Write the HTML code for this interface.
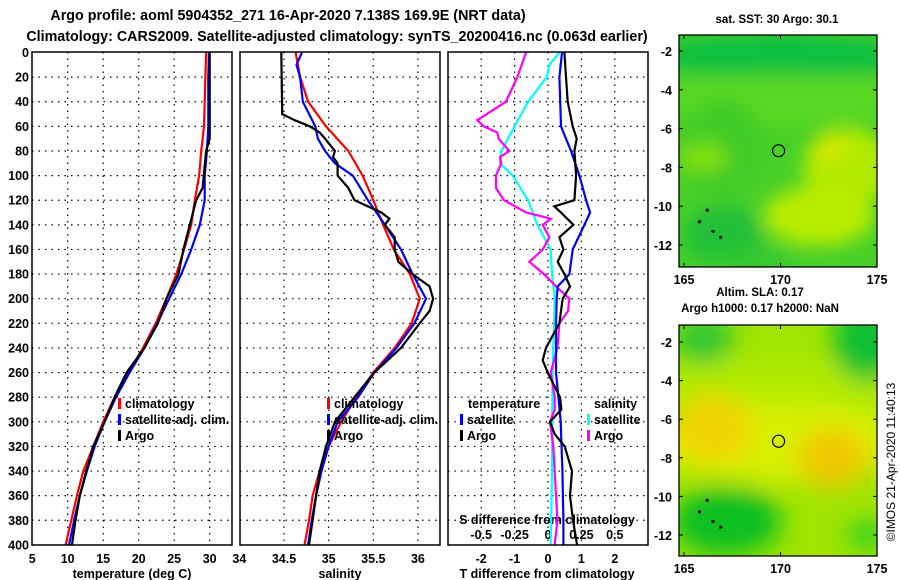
<!DOCTYPE html>
<html><head><meta charset="utf-8">
<style>
html,body{margin:0;padding:0;background:#fff;}
svg{display:block;font-family:"Liberation Sans",Arial,sans-serif;font-weight:bold;}
</style></head>
<body>
<svg id="fig" width="900" height="580" viewBox="0 0 900 580" xmlns="http://www.w3.org/2000/svg">
<defs>
<filter id="blur1" x="-20%" y="-20%" width="140%" height="140%"><feGaussianBlur stdDeviation="9"/></filter>
<filter id="blur2" x="-20%" y="-20%" width="140%" height="140%"><feGaussianBlur stdDeviation="12"/></filter>
<clipPath id="clipM1"><rect x="679" y="35" width="198" height="232"/></clipPath>
<clipPath id="clipM2"><rect x="679" y="325" width="198" height="231"/></clipPath>
<clipPath id="clipP1"><rect x="32" y="52" width="200" height="493"/></clipPath>
<clipPath id="clipP2"><rect x="240" y="52" width="200" height="493"/></clipPath>
<clipPath id="clipP3"><rect x="448" y="52" width="200" height="493"/></clipPath>
</defs>
<text x="288" y="20" font-size="14.3" text-anchor="middle">Argo profile: aoml 5904352_271 16-Apr-2020 7.138S 169.9E (NRT data)</text>
<text x="337" y="41" font-size="14.3" text-anchor="middle">Climatology: CARS2009. Satellite-adjusted climatology: synTS_20200416.nc (0.063d earlier)</text>
<g id="layer"></g>
</svg>
<script>
// ---- data ----
const depthT = [0,20,60,80,100,120,140,160,180,200,220,240,260,280,300,320,340,360,380,400];
const tempClim = [29.5,29.4,29.2,28.8,28.5,27.9,27.4,26.4,25.3,23.9,22.4,20.6,18.6,16.6,15.0,13.6,12.2,11.3,10.5,9.7];
const tempSat = [29.9,29.8,29.8,29.6,29.3,29.3,28.6,27.4,26.0,24.3,22.6,20.8,18.7,16.8,15.2,13.8,12.7,11.7,10.9,10.2];
const depthTA = [0,70,80,110,120,140,160,180,200,220,240,260,280,300,320,340,360,380,400];
const tempArgo = [30.0,30.0,29.5,29.0,28.1,27.2,26.3,25.6,23.9,22.7,20.8,18.3,16.6,15.2,13.6,12.6,11.7,11.1,10.6];

const depthS = [0,20,40,60,80,100,120,140,160,180,200,220,240,260,280,300,320,340,360,380,400];
const salClim = [34.63,34.68,34.77,34.97,35.22,35.38,35.50,35.61,35.73,35.91,36.02,35.93,35.74,35.50,35.31,35.14,35.0,34.9,34.82,34.78,34.73];
const depthSS = [0,10,20,40,60,70,80,90,100,120,140,160,180,200,220,240,260,280,300,320,340,360,380,400];
const salSat = [34.70,34.64,34.68,34.71,34.85,34.88,34.96,35.07,35.27,35.44,35.63,35.81,35.94,36.09,35.96,35.76,35.51,35.33,35.10,35.0,34.92,34.86,34.81,34.77];
const depthSA = [0,50,55,60,65,70,80,85,90,100,110,120,125,130,135,140,150,160,170,180,190,200,210,220,240,260,280,300,320,340,360,380,400];
const salArgo = [34.47,34.48,34.62,34.79,34.90,34.96,35.07,35.05,35.10,35.10,35.22,35.29,35.44,35.59,35.68,35.63,35.74,35.74,35.78,35.94,36.13,36.17,36.13,36.02,35.81,35.51,35.29,35.07,34.97,34.90,34.86,34.82,34.78];

const depthDTS = [0,20,60,80,100,120,130,140,160,180,190,200,220,240,260,280,300,340,380,400];
const dTSat = [0.42,0.34,0.39,0.69,0.94,1.14,1.26,1.09,0.74,0.64,0.29,0.26,0.24,0.24,0.24,0.31,0.38,0.43,0.46,0.46];
const depthDTA = [0,20,40,60,70,80,100,120,125,130,140,150,160,170,180,190,200,210,220,240,250,260,280,290,300,310,320,340,360,380,400];
const dTArgo = [0.49,0.54,0.59,0.74,0.86,0.79,0.84,0.79,0.19,0.39,0.76,0.34,0.46,0.29,0.49,0.66,0.44,0.39,0.34,-0.06,-0.16,-0.01,0.36,0.4,0.06,0.2,0.5,0.72,0.66,0.75,0.87];
const depthDSS = [0,10,20,40,60,80,90,100,120,140,160,180,200,240,260,300,340,400];
const dSSat = [0.085,0.01,-0.01,-0.15,-0.25,-0.35,-0.36,-0.265,-0.15,-0.08,0.02,0.03,0.05,0.04,0.035,0.03,0.03,0.02];
const depthDSA = [0,20,40,55,60,65,70,80,85,90,100,110,120,130,135,140,150,160,170,180,190,200,210,220,240,260,280,290,300,320,340,360,380,400];
const dSArgo = [-0.165,-0.23,-0.315,-0.53,-0.48,-0.38,-0.37,-0.29,-0.36,-0.35,-0.39,-0.39,-0.33,-0.165,0.02,-0.04,0.01,-0.04,-0.14,-0.03,0.06,0.16,0.15,0.085,0.07,0.02,0.05,0.05,0.015,0.04,0.05,0.06,0.07,0.05];

const depthTicks = [0,20,40,60,80,100,120,140,160,180,200,220,240,260,280,300,320,340,360,380,400];
const tempTicks = [5,10,15,20,25,30];
const salTicks = [34,34.5,35,35.5,36];
const dTTicks = [-2,-1,0,1,2];
const dSTicks = [-0.5,-0.25,0,0.25,0.5];
const latTicks = [-2,-4,-6,-8,-10,-12];
const lonTicks = [165,170,175];
const argoLon = 169.9, argoLat = -7.14;

// ---- scales ----
const NS = "http://www.w3.org/2000/svg";
const layer = document.getElementById('layer');
const yD = d => 52.5 + d * 1.231;
const xT = t => 67.7 + (t - 10) * 7.1;
const xS = s => 284 + (s - 34.5) * 89.3;
const xDT = t => 548 + t * 33.4;
const xDS = s => 548 + s * 133.6;
const mx = lon => 684 + (lon - 165) * 19.3;
const my1 = lat => 51 + (-2 - lat) * 19.4;
const my2 = lat => 342 + (-2 - lat) * 19.3;

function el(tag, attrs, parent) {
  const e = document.createElementNS(NS, tag);
  for (const k in attrs) e.setAttribute(k, attrs[k]);
  (parent || layer).appendChild(e);
  return e;
}
function txt(x, y, s, size, anchor, parent) {
  const t = el('text', {x: x, y: y, 'font-size': size, 'text-anchor': anchor}, parent);
  t.textContent = s;
  return t;
}
function line(xs, ys, xf, color, clip, name) {
  const pts = xs.map((v, i) => xf(v).toFixed(1) + ',' + yD(ys[i]).toFixed(1)).join(' ');
  const p = el('polyline', {points: pts, fill: 'none', stroke: color, 'stroke-width': 2.2, 'clip-path': 'url(#' + clip + ')'});
  
  
}

// ---- profile panels ----
const panels = [
  {x0: 32, clip: 'clipP1', name: 'temperature-panel'},
  {x0: 240, clip: 'clipP2', name: 'salinity-panel'},
  {x0: 448, clip: 'clipP3', name: 'difference-panel'}
];
panels.forEach(p => {
  const g = el('g', {});
  
  
  depthTicks.forEach(d => {
    if (d > 0 && d < 400) el('line', {x1: p.x0, x2: p.x0 + 200, y1: yD(d), y2: yD(d), stroke: '#000', 'stroke-width': 1.2, 'stroke-dasharray': '1.5,5'}, g);
  });
  p.g = g;
});
tempTicks.forEach(t => { if (xT(t) > 34 && xT(t) < 230) el('line', {x1: xT(t), x2: xT(t), y1: 52, y2: 545, stroke: '#000', 'stroke-width': 1.2, 'stroke-dasharray': '1.5,5'}); });
salTicks.forEach(s => { if (xS(s) > 242 && xS(s) < 438) el('line', {x1: xS(s), x2: xS(s), y1: 52, y2: 545, stroke: '#000', 'stroke-width': 1.2, 'stroke-dasharray': '1.5,5'}); });
dTTicks.forEach(t => { el('line', {x1: xDT(t), x2: xDT(t), y1: 52, y2: 545, stroke: '#000', 'stroke-width': 1.2, 'stroke-dasharray': '1.5,5'}); });

depthTicks.forEach(d => {
  const t = txt(29, yD(d) + 4.5, String(d), 12.5, 'end');
  
  
});
tempTicks.forEach(t => { const e = txt(xT(t), 563, String(t), 12.5, 'middle');   });
salTicks.forEach(s => { const e = txt(xS(s), 563, String(s), 12.5, 'middle');   });
dTTicks.forEach(t => { const e = txt(xDT(t), 563, String(t), 12.5, 'middle');   });
dSTicks.forEach(s => { const e = txt(xDS(s), 539, String(s), 12.5, 'middle');   });
let at = txt(132, 578, 'temperature (deg C)', 12.5, 'middle');  
at = txt(340, 578, 'salinity', 12.5, 'middle');  
at = txt(547, 578, 'T difference from climatology', 12.5, 'middle');  
at = txt(547, 524, 'S difference from climatology', 12.5, 'middle');  

line(tempClim, depthT, xT, '#f00', 'clipP1', 'temp-climatology-line');
line(tempSat, depthT, xT, '#00f', 'clipP1', 'temp-satellite-line');
line(tempArgo, depthTA, xT, '#000', 'clipP1', 'temp-argo-line');
line(salClim, depthS, xS, '#f00', 'clipP2', 'sal-climatology-line');
line(salSat, depthSS, xS, '#00f', 'clipP2', 'sal-satellite-line');
line(salArgo, depthSA, xS, '#000', 'clipP2', 'sal-argo-line');
line(dSSat, depthDSS, xDS, '#0ff', 'clipP3', 'sdiff-satellite-line');
line(dSArgo, depthDSA, xDS, '#f0f', 'clipP3', 'sdiff-argo-line');
line(dTSat, depthDTS, xDT, '#00f', 'clipP3', 'tdiff-satellite-line');
line(dTArgo, depthDTA, xDT, '#000', 'clipP3', 'tdiff-argo-line');

function legend(x, y, color, label, name) {
  const g = el('g', {});
  
  
  if (color) el('rect', {x: x, y: y - 10, width: 3, height: 11, fill: color}, g);
  txt(x + 7, y, label, 12.5, 'start', g);
}
legend(118, 408, '#f00', 'climatology', 'legend-temp-climatology');
legend(118, 424, '#00f', 'satellite-adj. clim.', 'legend-temp-satellite');
legend(118, 440, '#000', 'Argo', 'legend-temp-argo');
legend(327, 408, '#f00', 'climatology', 'legend-sal-climatology');
legend(327, 424, '#00f', 'satellite-adj. clim.', 'legend-sal-satellite');
legend(327, 440, '#000', 'Argo', 'legend-sal-argo');
legend(461, 408, null, 'temperature', 'legend-temperature-header');
legend(460, 424, '#00f', 'satellite', 'legend-tdiff-satellite');
legend(460, 440, '#000', 'Argo', 'legend-tdiff-argo');
legend(587, 408, null, 'salinity', 'legend-salinity-header');
legend(587, 424, '#0ff', 'satellite', 'legend-sdiff-satellite');
legend(587, 440, '#f0f', 'Argo', 'legend-sdiff-argo');

panels.forEach(p => {
  el('rect', {x: p.x0, y: 52, width: 200, height: 493, fill: 'none', stroke: '#000', 'stroke-width': 1.5});
});

// ---- maps ----
function map(top, h, my, clip, blobs, base, name, titleLines) {
  const g = el('g', {});
  
  
  const inner = el('g', {'clip-path': 'url(#' + clip + ')'}, g);
  el('rect', {x: 679, y: top, width: 198, height: h, fill: base}, inner);
  const bg = el('g', {filter: blobs.f}, inner);
  blobs.list.forEach(b => el('ellipse', {cx: mx(b[0]), cy: my(b[1]), rx: b[2], ry: b[3], fill: b[4]}, bg));
  [[165.8,-10.8],[166.5,-11.3],[166.9,-11.6],[166.2,-10.2]].forEach(c => el('circle', {cx: mx(c[0]), cy: my(c[1]), r: 1.6, fill: '#000'}, inner));
  const c = el('circle', {cx: mx(argoLon), cy: my(argoLat), r: 6, fill: 'none', stroke: '#000', 'stroke-width': 1.2}, g);
  
  
  el('rect', {x: 679, y: top, width: 198, height: h, fill: 'none', stroke: '#000', 'stroke-width': 1.3}, g);
  latTicks.forEach(l => {
    el('line', {x1: 679, x2: 683, y1: my(l), y2: my(l), stroke: '#000'}, g);
    el('line', {x1: 873, x2: 877, y1: my(l), y2: my(l), stroke: '#000'}, g);
    txt(672, my(l) + 5, String(l), 12.5, 'end', g);
  });
  lonTicks.forEach(l => {
    el('line', {x1: mx(l), x2: mx(l), y1: top, y2: top + 4, stroke: '#000'}, g);
    el('line', {x1: mx(l), x2: mx(l), y1: top + h - 4, y2: top + h, stroke: '#000'}, g);
    txt(mx(l), top + h + 17, String(l), 12.5, 'middle', g);
  });
  titleLines.forEach(t => txt(t[0], t[1], t[2], 11.5, 'middle', g));
}
map(35, 232, my1, 'clipM1', {f: 'url(#blur1)', list: [
  [170, -2.2, 130, 22, '#10c040'],
  [170, -4.5, 130, 25, '#58d820'],
  [167, -7.0, 40, 50, '#40cc28'],
  [166, -7.5, 25, 15, '#80e010'],
  [173.5, -8.0, 45, 40, '#b0ea00'],
  [172.5, -7.0, 18, 12, '#d8e800'],
  [172, -10.5, 55, 30, '#b8ec00'],
  [167, -11.5, 40, 30, '#20c038'],
  [168.5, -12.8, 50, 10, '#30c830']
]}, '#48d028', 'sst-map', [[777, 23, 'sat. SST: 30 Argo: 30.1']]);
map(325, 231, my2, 'clipM2', {f: 'url(#blur2)', list: [
  [170, -4.5, 130, 30, '#b0ea00'],
  [170, -7.2, 130, 40, '#d8f000'],
  [166.5, -6.5, 40, 35, '#f0d400'],
  [172.7, -8.0, 35, 30, '#f0c800'],
  [167.2, -11.3, 55, 35, '#10c020'],
  [174.5, -2.0, 35, 40, '#10c030'],
  [166, -1.8, 30, 25, '#30c830'],
  [174.5, -12, 20, 15, '#30d020']
]}, '#a0e400', 'sla-map', [[760, 296, 'Altim. SLA: 0.17'], [760, 312, 'Argo h1000: 0.17 h2000: NaN']]);

const stamp = txt(0, 0, '©IMOS 21-Apr-2020 11:40:13', 12, 'middle');
stamp.setAttribute('transform', 'translate(895,462) rotate(-90)');
stamp.setAttribute('font-weight', 'normal');


</script>
</body></html>
